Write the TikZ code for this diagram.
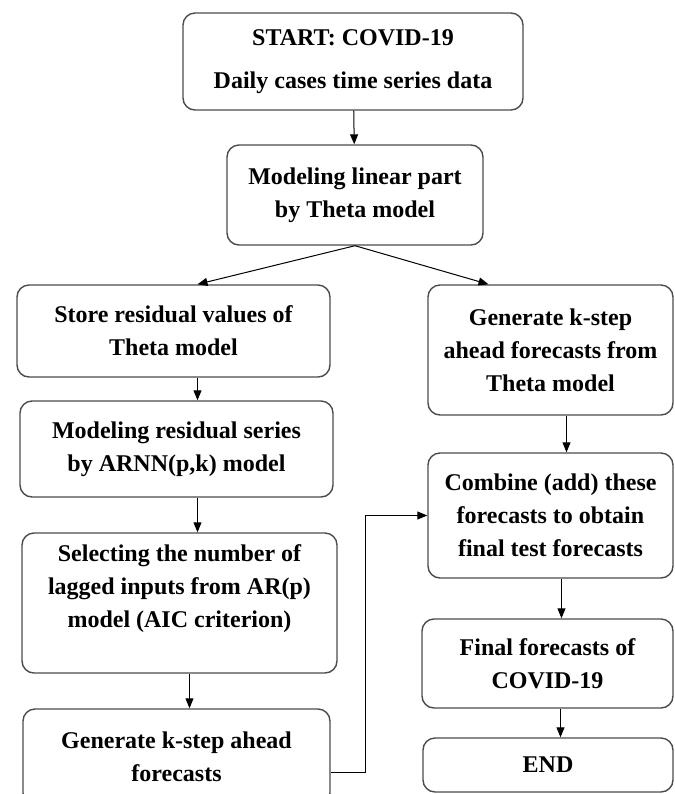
\documentclass[tikz,border=0pt]{standalone}
\usepackage{fontspec}
\setmainfont{Liberation Serif}
\usetikzlibrary{positioning,arrows.meta}

\begin{document}
\begin{tikzpicture}[x=0.5pt,y=-0.5pt,
    every node/.style={rectangle, rounded corners=6pt, draw=black!70, line width=0.7pt, align=center,
        font=\fontsize{12pt}{16.5pt}\selectfont\bfseries},
    arr/.style={-{Triangle[length=5pt,width=4pt]}, line width=0.5pt, black}]
    \useasboundingbox (0,0) rectangle (675,794);

    % Draw the top of the chart
    \node[minimum width=170pt, minimum height=48.5pt] (start) at (353,61.5) {START: COVID-19\\[5pt] Daily cases time series data};
    \node[minimum width=128pt, minimum height=50pt] (linear) at (355,195) {Modeling linear part\\ by Theta model};
    \draw[arr] (start) -- (linear);

    % Draw the left branch (residuals)
    \node[minimum width=156.5pt, minimum height=46pt] (store) at (173.5,331) {Store residual values of\\ Theta model};
    \node[minimum width=156.5pt, minimum height=48pt] (resid) at (176.5,449) {Modeling residual series\\ by ARNN(p,k) model};
    \node[minimum width=157.5pt, minimum height=70pt] (lags) at (179.5,603) {Selecting the number of\\ lagged inputs from AR(p)\\ model (AIC criterion)\\ \mbox{}};
    \node[minimum width=153.5pt, minimum height=48pt] (kstep) at (176.5,757) {Generate k-step ahead\\ forecasts};
    \draw[arr] ([xshift=12pt]store.south) -- ([xshift=12pt]store.south |- resid.north);
    \draw[arr] ([xshift=10.5pt]resid.south) -- ([xshift=10.5pt]resid.south |- lags.north);
    \draw[arr] ([xshift=5pt]lags.south) -- ([xshift=5pt]lags.south |- kstep.north);

    % Draw the right branch (Theta forecasts)
    \node[minimum width=122.5pt, minimum height=65pt] (fcst) at (550.5,350) {Generate k-step\\ ahead forecasts from\\ Theta model};
    \node[minimum width=122.5pt, minimum height=62.5pt] (comb) at (550.5,515.5) {Combine (add) these\\ forecasts to obtain\\ final test forecasts};
    \node[minimum width=125.5pt, minimum height=44.5pt] (final) at (547.5,663.5) {Final forecasts of\\ COVID-19};
    \node[minimum width=125pt, minimum height=27pt] (stop) at (548,765) {END};
    \draw[arr] ([xshift=8pt]fcst.south) -- ([xshift=8pt]fcst.south |- comb.north);
    \draw[arr] ([xshift=5.5pt]comb.south) -- ([xshift=5.5pt]comb.south |- final.north);
    \draw[arr] ([xshift=6.5pt]final.south) -- ([xshift=6.5pt]final.south |- stop.north);

    % Split and join
    \draw[arr] (linear.south) -- ([xshift=12pt]store.north);
    \draw[arr] (linear.south) -- ([xshift=-31pt]fcst.north);
    \coordinate (bend) at (365,515.5);
    \draw[arr] ([yshift=-7.5pt]kstep.east) -| (bend) -- (comb.west);
\end{tikzpicture}
\end{document}
